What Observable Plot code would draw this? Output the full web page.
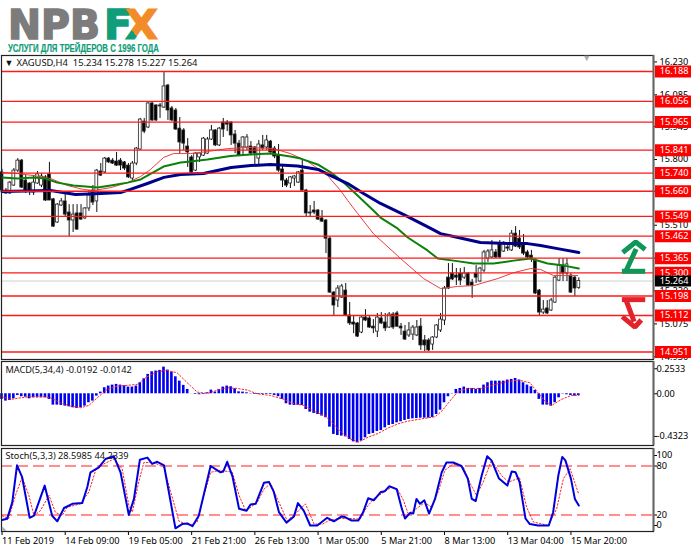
<!DOCTYPE html>
<html><head><meta charset="utf-8">
<script src="https://cdn.jsdelivr.net/npm/d3@7"></script>
<script src="https://cdn.jsdelivr.net/npm/@observablehq/plot@0.6"></script>
<style>
html,body{margin:0;padding:0;background:#fff}
#wrap{position:relative;width:691px;height:549px;overflow:hidden;background:#fff}
</style></head><body><div id="wrap">
<svg style="position:absolute;left:0;top:0" width="175" height="55" font-family="DejaVu Sans" font-weight="bold">
<defs><linearGradient id="xg" x1="0" y1="1" x2="1" y2="0"><stop offset="0.3" stop-color="#0f9d7a"/><stop offset="0.3" stop-color="#f28c28"/></linearGradient></defs>
<text x="8" y="38.5" font-size="41" fill="#7c7c7c" stroke="#7c7c7c" stroke-width="1.6" textLength="92" lengthAdjust="spacingAndGlyphs">NPB</text>
<text x="104" y="38.5" font-size="41" fill="#0f9d7a" stroke="#0f9d7a" stroke-width="1.6" textLength="28" lengthAdjust="spacingAndGlyphs">F</text>
<text x="125" y="38.5" font-size="41" fill="url(#xg)" stroke="url(#xg)" stroke-width="1.2" textLength="33" lengthAdjust="spacingAndGlyphs">X</text>
<text x="8" y="51.5" font-size="11.5" font-family="Liberation Sans" fill="#0f9d7a" stroke="#0f9d7a" stroke-width="0.2" textLength="151" lengthAdjust="spacingAndGlyphs">УСЛУГИ ДЛЯ ТРЕЙДЕРОВ С 1996 ГОДА</text>
</svg>
</div>
<script>
const openP=[15.743,15.663,15.650,15.685,15.751,15.795,15.707,15.694,15.654,15.694,15.685,15.721,15.734,15.624,15.522,15.597,15.615,15.566,15.531,15.562,15.562,15.540,15.584,15.663,15.615,15.747,15.743,15.804,15.795,15.791,15.795,15.787,15.773,15.716,15.782,15.844,15.967,15.941,16.047,16.038,16.038,16.029,16.126,16.025,16.016,15.936,15.928,15.857,15.809,15.751,15.809,15.817,15.826,15.888,15.928,15.862,15.963,15.963,15.963,15.910,15.870,15.853,15.853,15.857,15.853,15.804,15.862,15.853,15.879,15.848,15.817,15.756,15.707,15.694,15.716,15.698,15.751,15.663,15.566,15.575,15.575,15.540,15.531,15.451,15.213,15.178,15.191,15.222,15.112,15.081,15.077,15.037,15.103,15.099,15.063,15.041,15.099,15.081,15.059,15.116,15.121,15.063,15.041,15.024,15.028,15.024,15.063,15.002,15.002,14.984,15.015,15.046,15.090,15.279,15.297,15.288,15.297,15.279,15.297,15.257,15.297,15.262,15.310,15.363,15.368,15.390,15.429,15.394,15.412,15.399,15.473,15.451,15.429,15.390,15.376,15.354,15.222,15.125,15.143,15.134,15.169,15.266,15.332,15.297,15.288,15.279,15.234];
const highP=[15.756,15.672,15.703,15.760,15.804,15.800,15.729,15.698,15.729,15.747,15.738,15.729,15.787,15.628,15.606,15.628,15.659,15.601,15.601,15.601,15.601,15.588,15.663,15.685,15.756,15.782,15.809,15.809,15.804,15.831,15.804,15.791,15.782,15.791,15.853,15.981,15.981,16.051,16.051,16.042,16.047,16.183,16.131,16.034,16.025,15.985,15.936,15.892,15.817,15.831,15.831,15.897,15.897,15.950,15.932,15.941,15.981,15.972,15.967,15.928,15.884,15.901,15.910,15.879,15.857,15.884,15.906,15.906,15.884,15.857,15.866,15.773,15.716,15.725,15.729,15.747,15.800,15.668,15.597,15.615,15.579,15.575,15.535,15.460,15.218,15.244,15.249,15.253,15.169,15.112,15.081,15.107,15.138,15.107,15.094,15.121,15.125,15.121,15.125,15.125,15.130,15.077,15.068,15.081,15.068,15.090,15.099,15.024,15.010,15.019,15.072,15.121,15.240,15.341,15.341,15.319,15.319,15.324,15.301,15.271,15.332,15.324,15.399,15.403,15.443,15.403,15.443,15.438,15.429,15.487,15.504,15.487,15.469,15.399,15.399,15.363,15.227,15.178,15.178,15.187,15.284,15.363,15.363,15.363,15.297,15.284,15.278];
const lowP=[15.654,15.646,15.646,15.681,15.743,15.672,15.650,15.641,15.641,15.690,15.676,15.615,15.619,15.500,15.518,15.593,15.544,15.460,15.478,15.487,15.531,15.535,15.571,15.597,15.566,15.725,15.738,15.782,15.778,15.769,15.751,15.751,15.716,15.707,15.773,15.840,15.914,15.936,15.967,15.967,15.981,16.025,15.972,15.967,15.928,15.826,15.840,15.765,15.738,15.747,15.787,15.813,15.822,15.884,15.857,15.857,15.897,15.923,15.862,15.826,15.813,15.813,15.840,15.817,15.773,15.773,15.840,15.840,15.822,15.804,15.743,15.676,15.676,15.672,15.681,15.694,15.659,15.548,15.548,15.557,15.531,15.522,15.385,15.209,15.112,15.147,15.187,15.107,15.068,15.032,15.015,15.032,15.085,15.055,15.032,15.015,15.072,15.041,15.055,15.050,15.059,15.024,15.002,15.015,15.002,15.019,14.958,14.953,14.953,14.958,15.010,15.037,15.068,15.227,15.266,15.244,15.244,15.271,15.240,15.187,15.253,15.257,15.301,15.346,15.363,15.363,15.363,15.390,15.394,15.394,15.412,15.403,15.376,15.363,15.346,15.204,15.112,15.116,15.116,15.130,15.165,15.262,15.262,15.262,15.209,15.196,15.227];
const closeP=[15.663,15.650,15.698,15.751,15.795,15.676,15.659,15.659,15.698,15.734,15.725,15.619,15.619,15.504,15.601,15.615,15.557,15.531,15.557,15.491,15.535,15.584,15.641,15.610,15.751,15.729,15.804,15.787,15.782,15.773,15.773,15.760,15.721,15.782,15.848,15.976,15.923,16.047,15.972,15.972,16.034,16.122,16.016,15.972,15.932,15.875,15.870,15.831,15.743,15.826,15.826,15.892,15.888,15.928,15.862,15.936,15.932,15.954,15.906,15.870,15.817,15.897,15.897,15.826,15.826,15.866,15.848,15.884,15.831,15.813,15.751,15.707,15.685,15.721,15.725,15.743,15.663,15.562,15.562,15.566,15.535,15.526,15.451,15.213,15.156,15.231,15.240,15.112,15.077,15.072,15.019,15.103,15.090,15.059,15.055,15.103,15.077,15.055,15.116,15.059,15.063,15.055,15.006,15.046,15.059,15.059,14.980,14.980,14.958,15.015,15.068,15.094,15.231,15.231,15.271,15.279,15.266,15.297,15.244,15.244,15.279,15.319,15.390,15.394,15.399,15.368,15.368,15.429,15.407,15.473,15.416,15.412,15.385,15.368,15.363,15.209,15.125,15.138,15.121,15.178,15.279,15.332,15.297,15.337,15.213,15.231,15.264];

const blueX=[0,12.3,18.6,25,30,32.5,36.8,41,45.2,51,58,63,68,74.8,80,83.2,87.5,91.5,95.8,101.7,108.5,111,114.3,121.1,128,133,136.3,140.6,146];
const blueY=[15.659,15.663,15.646,15.650,15.654,15.668,15.694,15.721,15.734,15.738,15.765,15.773,15.778,15.771,15.756,15.729,15.694,15.650,15.606,15.557,15.496,15.473,15.460,15.434,15.429,15.429,15.421,15.407,15.390];
const greenX=[0,3.9,8,11,14,18.1,24.2,27.5,31.8,35.1,36.8,40.9,45.2,47.7,52,57.8,62.9,68,73,75.6,79.9,83.2,86.5,90,94,95.8,100.1,102.7,107.7,110.3,114.3,119.4,124.4,129.5,133.8,138.1,142.2,146];
const greenY=[15.721,15.716,15.721,15.716,15.698,15.685,15.676,15.685,15.698,15.712,15.729,15.769,15.787,15.791,15.800,15.815,15.822,15.826,15.813,15.804,15.778,15.743,15.698,15.641,15.575,15.544,15.496,15.456,15.399,15.363,15.354,15.341,15.341,15.354,15.363,15.341,15.332,15.319];
const redX=[0,3.9,8,12.3,16.6,20.6,23.2,27.5,31.8,35.1,37.6,40.9,43.4,47.7,52,57.1,62.2,68.7,73,77.4,82.4,85.7,87.5,90,94,100.9,106.7,111,115.3,119.4,125.5,129.5,133.8,136.3,139.6,145.7];
const redY=[15.743,15.738,15.729,15.716,15.685,15.668,15.663,15.676,15.698,15.725,15.756,15.809,15.826,15.826,15.835,15.848,15.853,15.848,15.826,15.791,15.729,15.663,15.619,15.562,15.473,15.363,15.275,15.231,15.240,15.244,15.275,15.301,15.319,15.315,15.288,15.288];

const levels=[16.188,16.056,15.965,15.841,15.740,15.660,15.549,15.462,15.365,15.300,15.198,15.112,14.951];
const lastPrice=15.264;
const priceTicks=[16.230,16.085,15.945,15.800,15.660,15.510,15.365,15.220,15.075,14.930];

const macdHist=[-.057,-.074,-.068,-.051,-.017,-.030,-.034,-.051,-.041,-.041,-.041,-.041,-.057,-.115,-.115,-.118,-.125,-.132,-.142,-.149,-.142,-.125,-.091,-.074,-.024,.017,.061,.078,.088,.095,.088,.081,.068,.068,.078,.112,.152,.196,.223,.230,.237,.270,.240,.220,.172,.128,.085,.044,.001,-.007,-.010,-.007,.010,.037,.017,.044,.068,.078,.071,.051,.020,.017,.010,.003,-.007,-.007,-.007,-.007,-.007,-.017,-.030,-.057,-.101,-.115,-.118,-.115,-.118,-.159,-.186,-.199,-.210,-.226,-.243,-.338,-.412,-.423,-.429,-.436,-.463,-.487,-.497,-.480,-.446,-.412,-.402,-.382,-.372,-.345,-.321,-.311,-.294,-.284,-.270,-.260,-.254,-.250,-.247,-.247,-.247,-.240,-.210,-.166,-.091,-.030,.003,.044,.054,.068,.054,.054,.044,.054,.088,.112,.128,.128,.128,.128,.139,.145,.155,.139,.112,.088,.071,.034,-.057,-.115,-.115,-.125,-.091,-.041,-.003,-.010,-.017,-.024,-.0192];
const macdSigX=[0,2.2,4.7,7.2,10.6,12.3,14.8,17.3,19.9,22,24.1,26.6,29.2,31.7,34.2,36.7,39.3,41.8,44.3,46.9,49.4,52,54.5,57,59.5,62.1,64.6,68,71.4,73.9,76.4,78.9,81.9,84,86.5,88.1,90.2,92.7,95.2,97.8,100.3,102.8,106.2,109.6,111.3,113,115.5,118,121.4,123.9,127.3,130.7,133.6,135.7,137.4,139.1,141.6,144.1,146];
const macdSigY=[-.030,-.057,-.041,-.030,-.030,-.041,-.091,-.125,-.142,-.118,-.041,.044,.078,.085,.095,.172,.223,.237,.213,.112,.017,.003,.037,.061,.054,.037,0,-.017,-.057,-.101,-.118,-.176,-.226,-.311,-.412,-.456,-.490,-.439,-.402,-.345,-.304,-.277,-.254,-.233,-.176,-.091,.027,.054,.054,.085,.118,.139,.112,.010,-.074,-.118,-.057,-.017,-.0142];

const stochX=[0,1.3,2.6,3.8,5.1,7,8.1,9.3,10.8,12.7,14,15.7,17.8,20.3,21.6,22.4,24.5,26.2,28.3,30,32.1,33.4,34.9,36.8,38,39.3,41,43.9,45.6,46.9,48.2,49.8,52.8,55.3,56,57,58.3,60,61.9,62.9,64.2,66.3,67.6,68.8,70.1,72,73.9,74.9,76.4,78,79.8,82.3,84,86,86.8,88.5,90.2,91.4,92.7,94.1,95.9,96.9,98,99.9,101.1,102,103.3,104.1,104.9,105.8,106.9,108.1,109.6,111.3,112.5,114.2,116.3,117.9,118.9,119.9,121.4,122.8,123.9,125.8,127.9,129,130,131,132.5,133.6,135.7,138.4,139.5,140.8,141.8,142.6,144,145,146];
const stochMain=[8,9.5,33,86,69,11,14,33,57,14,6,25,31,32,55,76,83,95,99,76,15,38,94,97,88,91,86,-4,2,3,-1,14,85,76,77,91,71,24,21,30,31,61,62,48,19,4,13,32,21,0,0,11,6,13,12,7,7,19,39,36,48,49,56,52,26,10,18,17,38,31,36,17,38,76,90,90,85,67,38,35,71,99,93,67,57,77,76,62,10,2,0,0,19,71,98,93,67,38,28.6];
const stochSigX=[0,1.7,3.4,5.1,6.8,8.1,9.7,11.9,13.5,15.2,16.5,19.9,22,23.7,25.8,28.3,30.4,32.1,33,34.6,35.9,38.4,41,42.7,44.8,47.7,49.4,51.1,52.8,55.3,58.3,60,61.7,64.6,66.3,68,70.1,72.2,74.7,76.8,79,81.1,82.7,85.7,88.5,90.6,92.3,94.4,96.5,98.6,100.3,101.6,102.8,104.9,107,108.7,110.4,112.1,114.2,116.8,118.5,120.1,121.8,123.9,126.5,128.2,131,132.8,134.5,138.3,140.4,142.1,143.8,146];
const stochSig=[14,10,43,69,43,14,21,43,19,14,26,31,48,79,88,95,81,29,19,62,90,90,83,48,6,0,5,43,76,79,76,43,21,33,52,60,33,7,19,31,2,2,7,10,10,9,26,40,47,55,50,36,17,24,33,26,48,79,88,83,60,43,62,93,71,62,68,26,5,0,24,67,81,44.2339];
const stochLevels=[85,15];
const stochTicks=[100,85,15,0];
const stochTickLabels=["100","80","20","0"];

const dateBars=[0,16,32,48,64,80,96,112,128,144];
const dateLabels=["11 Feb 2019","14 Feb 09:00","19 Feb 05:00","21 Feb 21:00","26 Feb 13:00","1 Mar 05:00","5 Mar 21:00","8 Mar 13:00","13 Mar 04:00","15 Mar 20:00"];

const upBarX=[156.9,162.8], upBarY=[15.307,15.307];
const upStemX=[157.9,160.5], upStemY=[15.307,15.405];
const upHeadX=[157.1,160.4,162.8], upHeadY=[15.390,15.436,15.403];
const downBarX=[156.9,162.8], downBarY=[15.182,15.182];
const downStemX=[157.9,160], downStemY=[15.182,15.085];
const downHeadX=[157,160.2,161.8], downHeadY=[15.107,15.061,15.092];

const FONT='"Noto Sans"';
const FS=9.2;
const bars=d3.range(openP.length);
const xScale={type:"linear",domain:[-0.127,164.9],range:[1,653]};
const pts=(xs,ys)=>xs.map((x,i)=>({x,y:ys[i]}));
const wrap=document.getElementById("wrap");
const BW=0.36;
function panel(top,height,mt,mb,domain,marks){
  const svg=Plot.plot({width:691,height,marginTop:mt,marginBottom:mb,marginLeft:1,marginRight:38,
    x:{...xScale,axis:null},y:{type:"linear",domain,axis:null},
    style:{position:"absolute",left:"0px",top:top+"px",background:"none",overflow:"visible",fontFamily:FONT,fontSize:FS+"px",color:"#000",maxWidth:"none"},
    marks});
  wrap.appendChild(svg);
}
function frameMarks(){
  return [Plot.frame({stroke:"#222",strokeWidth:1.2}),Plot.ruleX([164.9],{stroke:"#666",strokeWidth:2})];
}
const seg=(xs,ys,color,w)=>Plot.line(pts(xs,ys),{x:"x",y:"y",stroke:color,strokeWidth:w,strokeLinejoin:"miter",strokeLinecap:"butt"});

panel(45,320,10,6,[14.918,16.2585],[
  Plot.axisY(priceTicks,{anchor:"right",tickSize:3,tickPadding:3,label:null,fontSize:FS,tickFormat:d=>d.toFixed(3)}),
  Plot.ruleY([lastPrice],{stroke:"#d0d0d0",strokeWidth:1}),
  Plot.ruleX(bars,{x:i=>i,y1:i=>lowP[i],y2:i=>highP[i],stroke:"#111",strokeWidth:1}),
  Plot.rect(bars,{x1:i=>i-BW,x2:i=>i+BW,y1:i=>openP[i],y2:i=>closeP[i],fill:i=>closeP[i]>=openP[i]?"#fff":"#000",stroke:"#222",strokeWidth:.8}),
  Plot.line(pts(redX,redY),{x:"x",y:"y",stroke:"#e8403f",strokeWidth:1}),
  Plot.line(pts(greenX,greenY),{x:"x",y:"y",stroke:"#0a820a",strokeWidth:2}),
  Plot.line(pts(blueX,blueY),{x:"x",y:"y",stroke:"#00008b",strokeWidth:3}),
  Plot.ruleY(levels,{stroke:"#ff1a1a",strokeWidth:1.3}),
  ...frameMarks(),
  Plot.ruleY(levels,{x1:165.4,x2:175,stroke:"#ff0000",strokeWidth:12}),
  Plot.text(levels,{x:166.5,y:d=>d,text:d=>d.toFixed(3),fill:"#fff",textAnchor:"start",fontSize:FS}),
  Plot.ruleY([lastPrice],{x1:165.4,x2:175,stroke:"#000",strokeWidth:11}),
  Plot.text([lastPrice],{x:166.5,y:d=>d,text:d=>d.toFixed(3),fill:"#fff",textAnchor:"start",fontSize:FS}),
  seg(upBarX,upBarY,"#11965a",5),seg(upStemX,upStemY,"#11965a",5),seg(upHeadX,upHeadY,"#11965a",5),
  seg(downBarX,downBarY,"#e3222c",5),seg(downStemX,downStemY,"#e3222c",5),seg(downHeadX,downHeadY,"#e3222c",5),
  Plot.text(["▼"],{frameAnchor:"top-left",dx:3,dy:4,fontSize:9,fill:"#111",textAnchor:"start"}),
  Plot.text(["XAGUSD,H4  15.234 15.278 15.227 15.264"],{frameAnchor:"top-left",dx:15,dy:4,fontSize:FS+.2,fill:"#111",textAnchor:"start",fontFamily:FONT}),
  Plot.text(["▼"],{x:148,frameAnchor:"top",fontSize:9,fill:"#aaa",dy:-1})
]);

panel(355,94,6,4,[-0.524,0.327],[
  Plot.axisY([0.2533,0,-0.4323],{anchor:"right",tickSize:3,tickPadding:0,label:null,fontSize:FS,tickFormat:d=>d===0?"0.00":String(d)}),
  Plot.rect(bars,{x1:i=>i-.33,x2:i=>i+.33,y1:0,y2:i=>macdHist[i],fill:"#0000f0"}),
  Plot.line(pts(macdSigX,macdSigY),{x:"x",y:"y",stroke:"#ff2020",strokeWidth:1,strokeDasharray:"1.5,2"}),
  ...frameMarks(),
  Plot.text(["MACD(5,34,4) -0.0192 -0.0142"],{frameAnchor:"top-left",dx:4,dy:5,fontSize:FS,fill:"#111",textAnchor:"start"})
]);

panel(443,106,5,18,[-8.57,110],[
  Plot.axisY(stochTicks,{anchor:"right",tickSize:3,tickPadding:0,label:null,fontSize:FS,tickFormat:d=>stochTickLabels[stochTicks.indexOf(d)]}),
  Plot.axisX(dateBars,{anchor:"bottom",tickSize:4,tickPadding:2,label:null,fontSize:FS,textAnchor:"start",tickFormat:d=>dateLabels[dateBars.indexOf(d)]}),
  Plot.ruleY(stochLevels,{stroke:"#ff2020",strokeWidth:1.2,strokeDasharray:"11,5"}),
  Plot.line(pts(stochSigX,stochSig),{x:"x",y:"y",stroke:"#ff2020",strokeWidth:1,strokeDasharray:"1.5,2"}),
  Plot.line(pts(stochX,stochMain),{x:"x",y:"y",stroke:"#0000dd",strokeWidth:2}),
  ...frameMarks(),
  Plot.text(["Stoch(5,3,3) 28.5985 44.2339"],{frameAnchor:"top-left",dx:4,dy:4,fontSize:FS,fill:"#111",textAnchor:"start"}),
  Plot.text(["◣"],{frameAnchor:"bottom-left",dx:0,dy:-2,fontSize:6,fill:"#aaa",textAnchor:"start"})
]);
</script></body></html>
